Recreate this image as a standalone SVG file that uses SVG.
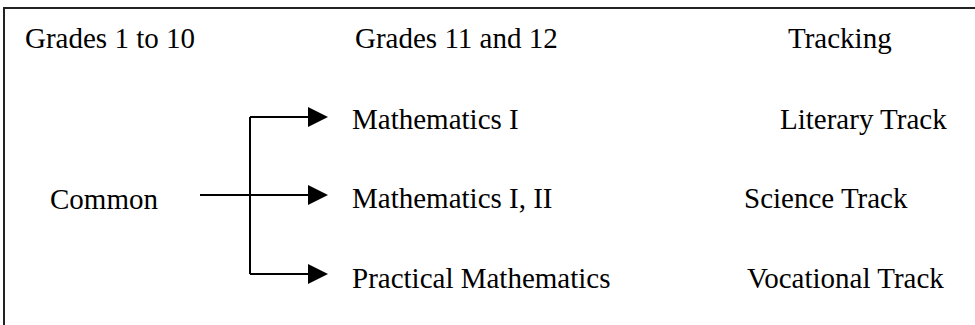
<svg xmlns="http://www.w3.org/2000/svg" width="975" height="325" viewBox="0 0 975 325">
  <style>
    text { font-family: "Liberation Serif", "Times New Roman", serif; font-size: 29px; fill: #000; }
    .frame { fill: none; stroke: #222; stroke-width: 2; }
    .conn { fill: none; stroke: #000; stroke-width: 2; }
  </style>
  <defs>
    <marker id="arrow" markerUnits="userSpaceOnUse" markerWidth="20" markerHeight="20" refX="0" refY="10" orient="auto" viewBox="0 0 20 20">
      <path d="M0,0 L20,10 L0,20 Z" fill="#000"/>
    </marker>
  </defs>
  <rect width="975" height="325" fill="#fff"/>
  <path class="frame" d="M4,325 V8 H975"/>

  <g id="header-grades-1-10"><text x="25" y="48">Grades 1 to 10</text></g>
  <g id="header-grades-11-12"><text x="355" y="48">Grades 11 and 12</text></g>
  <g id="header-tracking"><text x="788" y="48">Tracking</text></g>

  <g id="common"><text x="50" y="209">Common</text></g>

  <g id="math-1"><text x="352" y="129">Mathematics I</text></g>
  <g id="math-1-2"><text x="352" y="208">Mathematics I, II</text></g>
  <g id="practical-math"><text x="352" y="288">Practical Mathematics</text></g>

  <g id="literary-track"><text x="780" y="129">Literary Track</text></g>
  <g id="science-track"><text x="744" y="208">Science Track</text></g>
  <g id="vocational-track"><text x="747" y="288">Vocational Track</text></g>

  <g id="connectors">
    <path class="conn" d="M200,195 H308" marker-end="url(#arrow)"/>
    <path class="conn" d="M250,117 V274"/>
    <path class="conn" d="M250,117 H308" marker-end="url(#arrow)"/>
    <path class="conn" d="M250,274 H308" marker-end="url(#arrow)"/>
  </g>
</svg>
